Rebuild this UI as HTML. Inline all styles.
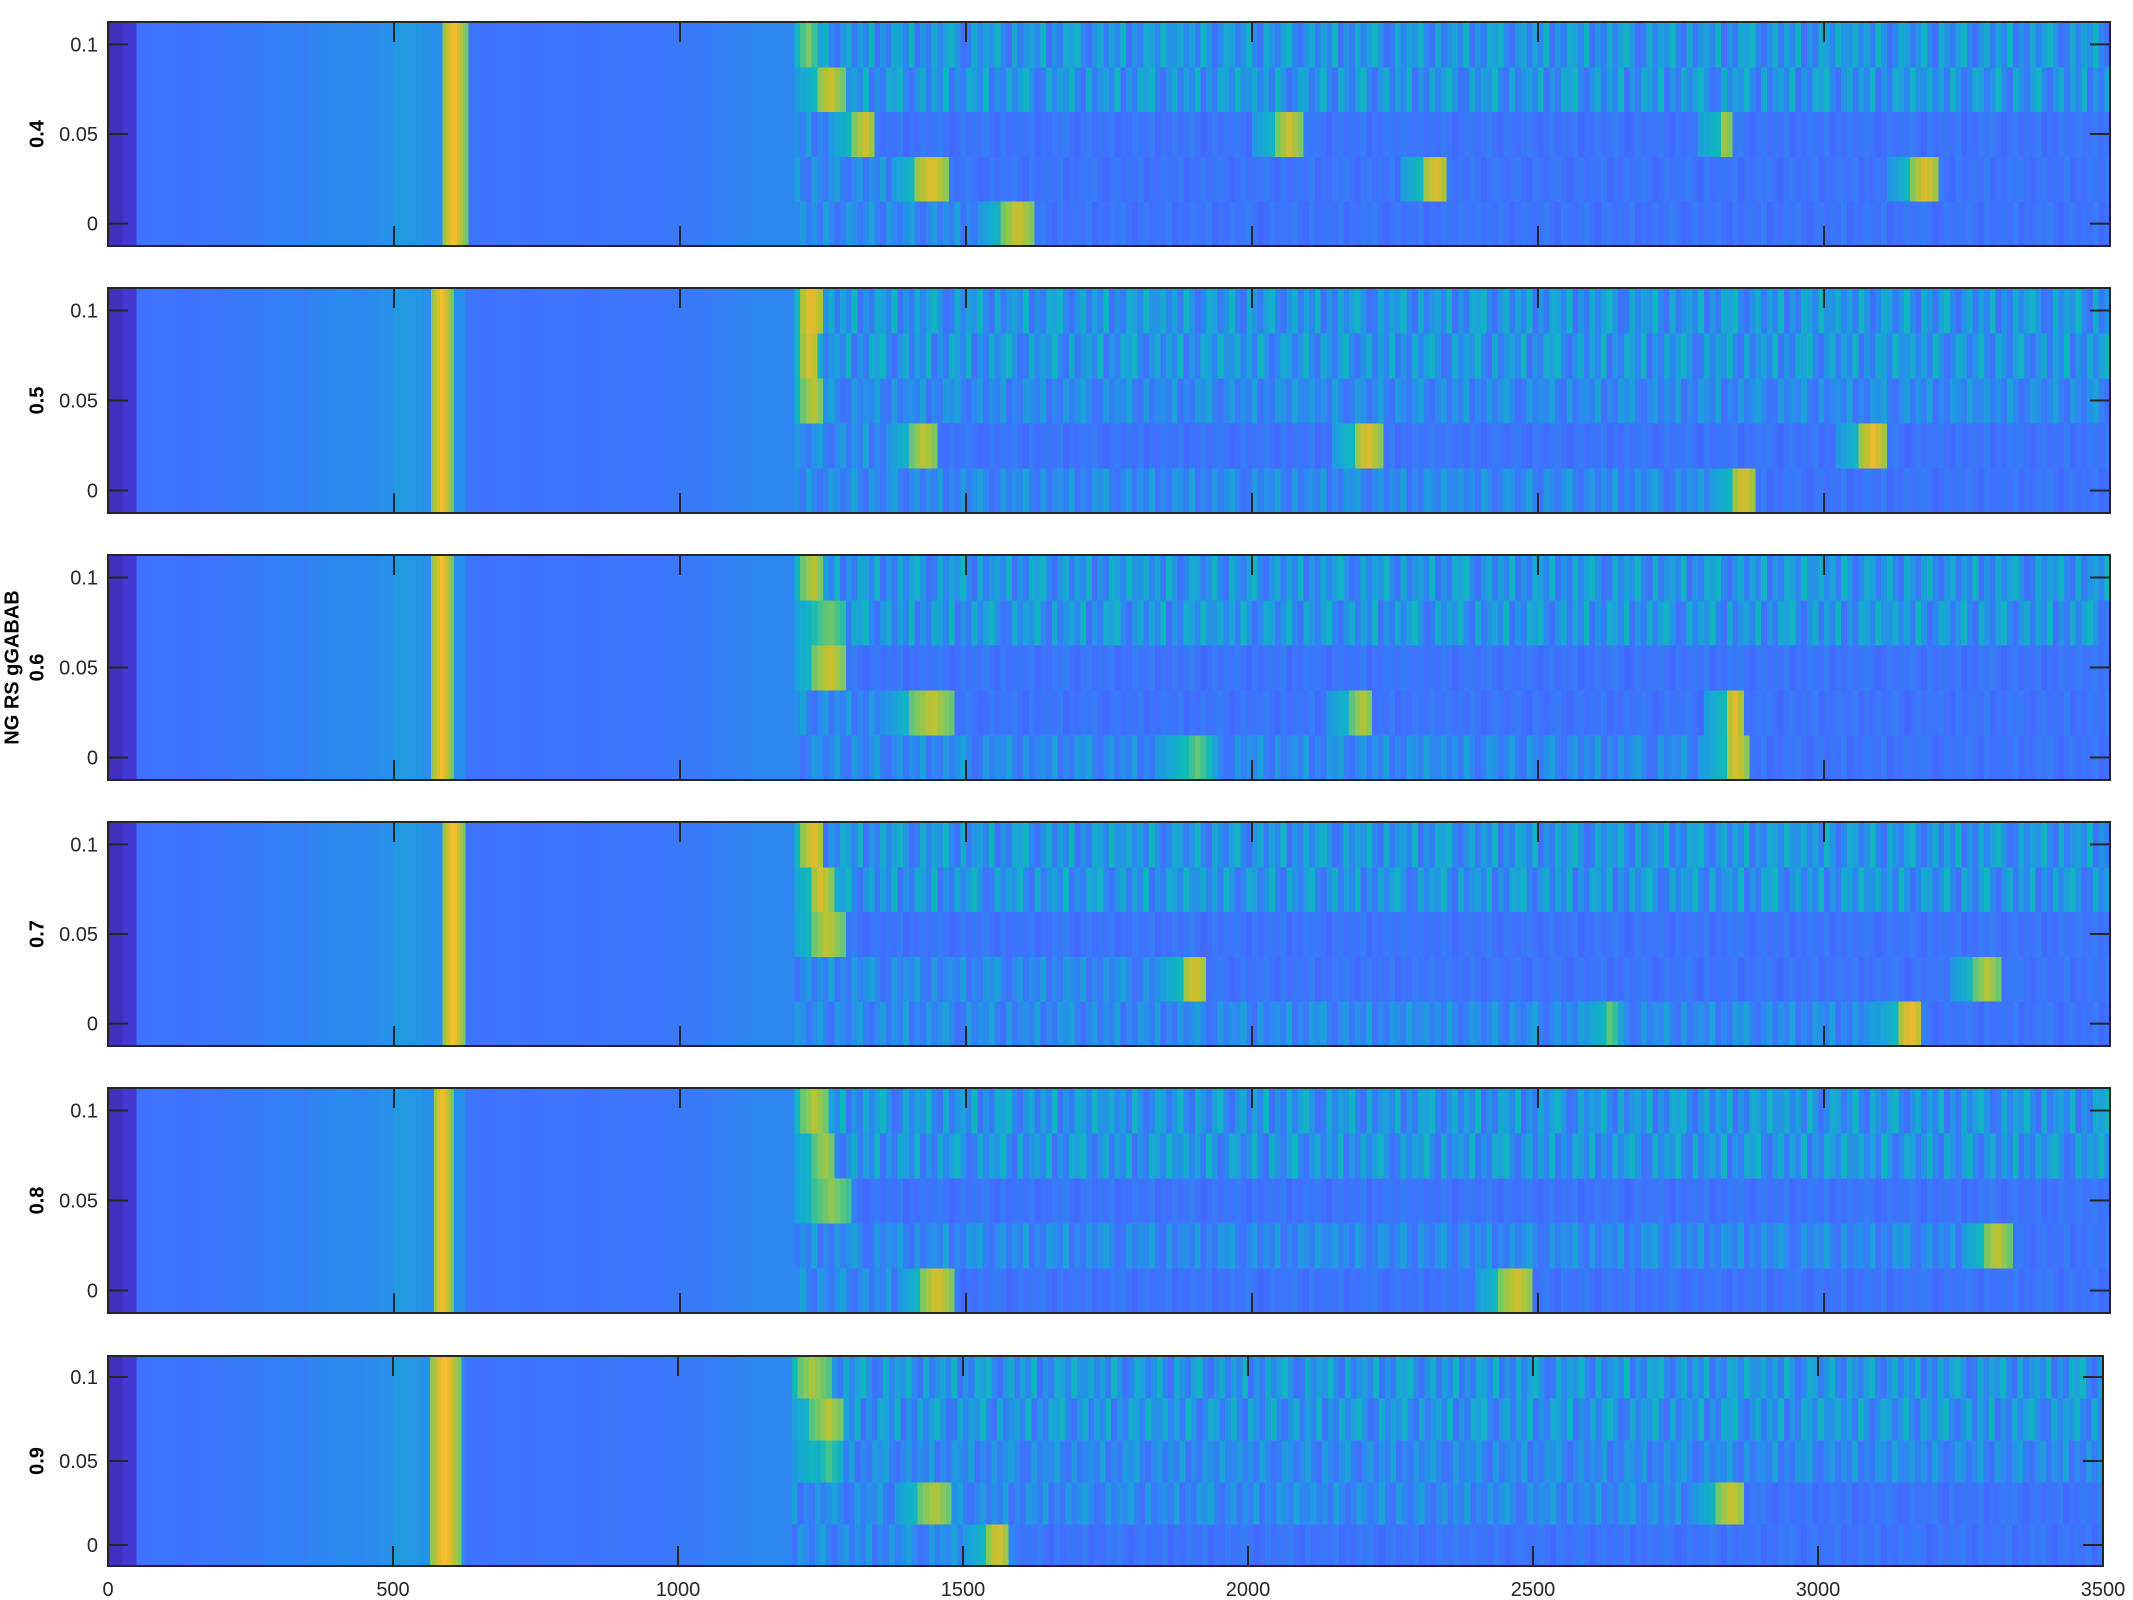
<!DOCTYPE html>
<html><head><meta charset="utf-8">
<style>
html,body{margin:0;padding:0;background:#fff;}
svg{display:block;}
text{font-family:"Liberation Sans",sans-serif;}
</style></head>
<body>
<svg id="chart" width="2133" height="1600" viewBox="0 0 2133 1600" xmlns="http://www.w3.org/2000/svg"></svg>
<script>
// ---- data ----
const panelLabels = ["0.4","0.5","0.6","0.7","0.8","0.9"];
const rowValues = [0, 0.025, 0.05, 0.075, 0.1];
const yTicks = [0, 0.05, 0.1];
const yTickLabels = ["0","0.05","0.1"];
const xTicks = [0, 500, 1000, 1500, 2000, 2500, 3000, 3500];
const xTickLabels = ["0","500","1000","1500","2000","2500","3000","3500"];
// baseline intensity of early period, 25-unit bins from 0 to 1200
const earlyBins = [0.03,0.06,0.19,0.2,0.2,0.19,0.2,0.2,0.21,0.22,0.22,0.23,0.24,0.23,0.25,0.26,0.27,0.26,0.27,0.28,0.31,0.3,0.28,0.28,0.28,
  0.2,0.19,0.2,0.2,0.19,0.2,0.2,0.2,0.19,0.2,0.21,0.2,0.2,0.2,0.21,0.22,0.22,0.23,0.24,0.25,0.26,0.26,0.26];
// stripe levels for late period (10-unit bins from 1200), digit d -> intensity
const stripeDigits = "3524163025413620531462035142603152463015243620513426031546203514260315426031524630152436205134260315462035142603154263";
// early hotspot per panel [start,end]
const earlyHot = [[583,626],[564,602],[564,602],[583,624],[567,602],[562,620]];
// late hotspots: [row, start, end, peak]
const lateHot = [
  [[4,1210,1238,0.6],[3,1238,1286,0.72],[2,1302,1345,0.72],[2,2043,2088,0.72],[2,2817,2840,0.68],[1,1410,1469,0.75],[1,2298,2345,0.75],[1,3155,3202,0.75],[0,1564,1619,0.72]],
  [[4,1210,1250,0.78],[3,1210,1245,0.75],[2,1214,1250,0.7],[1,1405,1452,0.7],[1,2179,2226,0.75],[1,3065,3107,0.78],[0,2840,2881,0.75]],
  [[4,1214,1250,0.7],[3,1233,1290,0.58],[2,1233,1290,0.72],[1,1405,1476,0.7],[1,2174,2214,0.68],[1,2826,2862,0.75],[0,2826,2869,0.74],[0,1881,1929,0.55]],
  [[4,1214,1252,0.76],[3,1226,1267,0.74],[2,1231,1286,0.7],[1,1876,1924,0.74],[1,3263,3310,0.68],[0,3131,3174,0.78],[0,2620,2636,0.6]],
  [[4,1210,1262,0.68],[3,1233,1274,0.66],[2,1233,1298,0.62],[1,3279,3326,0.7],[0,1424,1476,0.74],[0,2431,2495,0.72]],
  [[4,1206,1266,0.66],[3,1235,1295,0.68],[2,1240,1290,0.5],[1,1420,1481,0.68],[1,2824,2874,0.72],[0,1541,1582,0.74]]
];
// quiet (flat blue) segments: [row,start,end]
const quietSegs = [
  [[2,1345,3500],[1,1469,3500],[0,1619,3500]],
  [[1,1452,3500],[0,2881,3500]],
  [[2,1290,3500],[1,1476,3500],[0,2869,3500]],
  [[2,1286,3500],[1,1924,3500],[0,3174,3500]],
  [[2,1298,3500],[1,3326,3500],[0,1476,3500]],
  [[1,2874,3500],[0,1589,3500]]
];
// ---- layout ----
const panelTop = [22,288,555,822,1088,1356];
const panelBot = [246,513,780,1046,1313,1566];
const panelRight = [2110,2110,2110,2110,2110,2103];
const left = 108;
const stops = [[0,62,38,168],[0.1,70,70,235],[0.18,65,110,255],[0.26,45,135,240],[0.34,25,165,215],[0.42,15,185,185],[0.5,70,195,140],[0.6,130,200,95],[0.68,185,195,50],[0.76,235,185,45],[0.85,250,200,45],[1,249,251,14]];
function cmap(v){v=Math.max(0,Math.min(1,v));for(let i=1;i<stops.length;i++){if(v<=stops[i][0]){const a=stops[i-1],b=stops[i],t=(v-a[0])/(b[0]-a[0]);return `rgb(${Math.round(a[1]+t*(b[1]-a[1]))},${Math.round(a[2]+t*(b[2]-a[2]))},${Math.round(a[3]+t*(b[3]-a[3]))})`;}}return 'rgb(249,251,14)';}
const NS="http://www.w3.org/2000/svg";
const svg=document.getElementById('chart');
function el(tag,attrs,parent){const e=document.createElementNS(NS,tag);for(const k in attrs)e.setAttribute(k,attrs[k]);(parent||svg).appendChild(e);return e;}

function valueAt(p,row,x){
  for(const h of lateHot[p]){ if(h[0]===row){
    if(x>=h[1]&&x<h[2]){const c=(h[1]+h[2])/2,w=(h[2]-h[1])/2;return h[3]-0.15*Math.abs(x-c)/w;}
    if(x>=h[1]-40&&x<h[1]) return 0.3+0.12*(x-(h[1]-40))/40;
  }}
  for(const q of quietSegs[p]){ if(q[0]===row && x>=q[1]&&x<q[2]){
    const d=+stripeDigits[Math.floor((x-1200)/10+row*5)%stripeDigits.length];
    return 0.17+d*0.01;}}
  const d=+stripeDigits[Math.floor((x-1200)/10+row*13+p*3)%stripeDigits.length];
  const amp = row>=3?0.035:0.024;
  return 0.19+d*amp;
}

for(let p=0;p<6;p++){
  const g=el('g',{});
  
  
  const T=panelTop[p],B=panelBot[p],R=panelRight[p];
  const xs=v=>left+(v/3500)*(R-left);
  const ys=v=>B-((v+0.0125)/0.125)*(B-T);
  const cells=el('g',{'shape-rendering':'crispEdges'},g);
  
  
  for(let i=0;i<earlyBins.length;i++){
    const x0=i*25,x1=x0+25;
    let v=earlyBins[i];
    const eh=earlyHot[p];
    if(x1>eh[0]&&x0<eh[1]){
      for(let x=x0;x<x1;x+=5){
        let vv=v;
        if(x>=eh[0]&&x<eh[1]){const c=(eh[0]+eh[1])/2,w=(eh[1]-eh[0])/2;vv=0.82-0.25*Math.abs(x+2.5-c)/w;}
        const r=el('rect',{x:xs(x),y:T,width:xs(x+5)-xs(x)+0.6,height:B-T,fill:cmap(vv)},cells);
        
        
      }
      continue;
    }
    const r=el('rect',{x:xs(x0),y:T,width:xs(x1)-xs(x0)+0.6,height:B-T,fill:cmap(v)},cells);
    
    
  }
  for(let row=0;row<5;row++){
    const yTop=ys(rowValues[row]+0.0125), yB=ys(rowValues[row]-0.0125);
    for(let x=1200;x<3500;x+=10){
      const v=valueAt(p,row,x+5);
      const r=el('rect',{x:xs(x),y:yTop,width:xs(x+10)-xs(x)+0.6,height:yB-yTop+0.5,fill:cmap(v)},cells);
      
      
    }
  }
  const fr=el('rect',{x:left,y:T,width:R-left,height:B-T,fill:'none',stroke:'#262626','stroke-width':2},g);
  
  
  yTicks.forEach((t,i)=>{
    const y=ys(t);
    el('line',{x1:left,x2:left+20,y1:y,y2:y,stroke:'#262626','stroke-width':2},g);
    el('line',{x1:R-20,x2:R,y1:y,y2:y,stroke:'#262626','stroke-width':2},g);
    const tx=el('text',{x:98,y:y+7,'text-anchor':'end','font-size':20,fill:'#262626'},g);
    tx.textContent=yTickLabels[i];
    
    
  });
  xTicks.forEach((t,i)=>{
    const x=xs(t);
    el('line',{x1:x,x2:x,y1:T,y2:T+20,stroke:'#262626','stroke-width':2},g);
    el('line',{x1:x,x2:x,y1:B-20,y2:B,stroke:'#262626','stroke-width':2},g);
    if(p===5){
      const tx=el('text',{x:x,y:B+30,'text-anchor':'middle','font-size':20,fill:'#262626'},g);
      tx.textContent=xTickLabels[i];
      
      
    }
  });
  const cy=(T+B)/2;
  const lab=el('text',{x:38,y:cy,'text-anchor':'middle','font-size':20,'font-weight':'bold',fill:'#000',transform:`rotate(-90 38 ${cy})`,'dominant-baseline':'middle'},g);
  lab.textContent=panelLabels[p];
  
  
  if(p===2){
    const t2=el('text',{x:13,y:cy,'text-anchor':'middle','font-size':20,'font-weight':'bold',fill:'#000',transform:`rotate(-90 13 ${cy})`,'dominant-baseline':'middle'},g);
    t2.textContent='NG RS gGABAB';
    
    
  }
}
</script>
</body></html>
